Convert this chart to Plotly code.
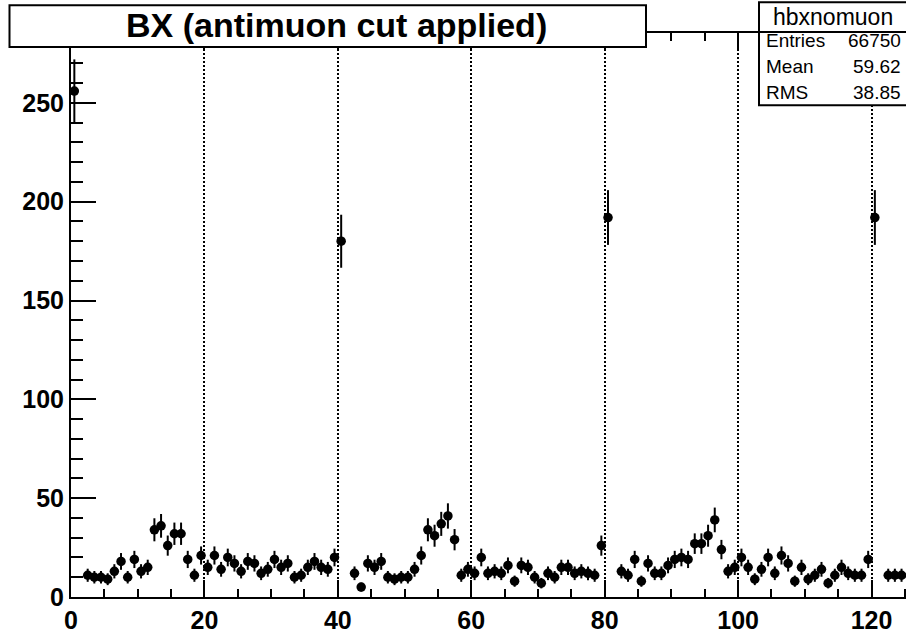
import plotly.graph_objects as go
import math

# ---------------- data ----------------
bin_index = list(range(126))
counts = [
    256, None, 11, 10, 10, 9, 13, 18, 10, 19,
    13, 15, 34, 36, 26, 32, 32, 19, 11, 21,
    15, 21, 14, 20, 17, 13, 18, 17, 12, 14,
    19, 15, 17, 10, 11, 15, 18, 15, 14, 20,
    180, None, 12, 5, 17, 15, 18, 10, 9, 10,
    10, 14, 21, 34, 31, 37, 41, 29, 11, 14,
    12, 20, 12, 13, 12, 16, 8, 16, 15, 10,
    7, 12, 10, 15, 15, 12, 13, 12, 11, 26,
    192, None, 13, 11, 19, 8, 17, 12, 12, 16,
    19, 20, 19, 27, 27, 31, 39, 24, 13, 15,
    20, 15, 9, 14, 20, 12, 21, 17, 8, 15,
    9, 11, 14, 7, 11, 15, 12, 11, 11, 19,
    192, None, 11, 11, 11, 17,
]
x_ticks = [0, 20, 40, 60, 80, 100, 120]
y_ticks = [0, 50, 100, 150, 200, 250]
title_text = "BX (antimuon cut applied)"
stats_name = "hbxnomuon"
stats_labels = ["Entries", "Mean", "RMS"]
stats_values = ["66750", "59.62", "38.85"]

# bin centres and Poisson errors
xc = [i + 0.5 for i in bin_index]
err = [math.sqrt(c) if c is not None else None for c in counts]

FONT = "Liberation Sans"
W, H = 906, 634
ML, MR, MT, MB = 71, 0, 33, 32
PW = W - ML - MR
PH = H - MT - MB


def px(xp):
    return (xp - ML) / PW


def py(yp):
    return (H - MB - yp) / PH


fig = go.Figure()
fig.add_trace(go.Scatter(
    x=xc, y=counts, mode="markers",
    marker=dict(color="black", size=9.5, line=dict(width=0)),
    error_y=dict(type="data", array=err, visible=True, color="black",
                 thickness=2, width=0),
    cliponaxis=False, showlegend=False, hoverinfo="skip",
))

tick_common = dict(tickcolor="black", tickwidth=2, ticks="inside")

fig.update_layout(
    width=W, height=H,
    margin=dict(l=ML, r=MR, t=MT, b=MB, pad=0),
    paper_bgcolor="white", plot_bgcolor="white",
    font=dict(family=FONT, color="black"),
    showlegend=False,
    xaxis=dict(
        range=[0, PW / 6.671], tickmode="array", tickvals=x_ticks,
        ticktext=[str(v) for v in x_ticks],
        ticklen=17, **tick_common,
        showline=True, linecolor="black", linewidth=2, mirror="ticks",
        showgrid=True, gridcolor="black", griddash="2px,2px", gridwidth=1.5,
        zeroline=False,
        tickfont=dict(family=FONT, size=25, color="black", weight="bold"),
        minor=dict(dtick=5, tick0=0, ticklen=8, tickcolor="black",
                   tickwidth=2, ticks="inside", showgrid=False),
    ),
    yaxis=dict(
        range=[0, PH / 1.994], tickmode="array", tickvals=y_ticks,
        ticktext=[str(v) for v in y_ticks],
        ticklen=25, **tick_common,
        showline=True, linecolor="black", linewidth=2, mirror=False,
        showgrid=False, zeroline=False,
        tickfont=dict(family=FONT, size=25, color="black", weight="bold"),
        minor=dict(dtick=10, tick0=0, ticklen=12, tickcolor="black",
                   tickwidth=2, ticks="inside", showgrid=False),
    ),
    yaxis2=dict(
        overlaying="y", side="right", anchor="x",
        range=[0, PH / 1.994], tickmode="array", tickvals=y_ticks,
        ticklen=19, **tick_common,
        showticklabels=False, showline=False, showgrid=False, zeroline=False,
        minor=dict(dtick=10, tick0=0, ticklen=6, tickcolor="black",
                   tickwidth=2, ticks="inside", showgrid=False),
    ),
)

shapes = []
# title box
shapes.append(dict(type="rect", xref="paper", yref="paper",
                   x0=px(9.5), x1=px(646), y0=py(47), y1=py(5),
                   line=dict(color="black", width=2), fillcolor="white",
                   layer="above"))
# stats box
shapes.append(dict(type="rect", xref="paper", yref="paper",
                   x0=px(759), x1=px(925), y0=py(106), y1=py(2),
                   line=dict(color="black", width=2), fillcolor="white",
                   layer="above"))
shapes.append(dict(type="line", xref="paper", yref="paper",
                   x0=px(759), x1=px(925), y0=py(32), y1=py(32),
                   line=dict(color="black", width=2), layer="above"))
fig.update_layout(shapes=shapes)

ann = []
ann.append(dict(text=f"<b>{title_text}</b>", xref="paper", yref="paper",
                x=px(336.5), y=py(25), xanchor="center", yanchor="middle",
                showarrow=False, font=dict(family=FONT, size=34, color="black")))
ann.append(dict(text=stats_name, xref="paper", yref="paper",
                x=px(833), y=py(17), xanchor="center", yanchor="middle",
                showarrow=False, font=dict(family=FONT, size=23, color="black")))
row_y = [41, 67, 93]
for lab, val, ry in zip(stats_labels, stats_values, row_y):
    ann.append(dict(text=lab, xref="paper", yref="paper",
                    x=px(764), y=py(ry), xanchor="left", yanchor="middle",
                    showarrow=False, font=dict(family=FONT, size=19, color="black")))
    ann.append(dict(text=val, xref="paper", yref="paper",
                    x=px(903), y=py(ry), xanchor="right", yanchor="middle",
                    showarrow=False, font=dict(family=FONT, size=19, color="black")))
fig.update_layout(annotations=ann)

fig.write_html(
    "out.html",
    config={"displayModeBar": False},
    post_script="document.body.style.margin='0px';"
                "document.body.style.overflow='hidden';",
)
